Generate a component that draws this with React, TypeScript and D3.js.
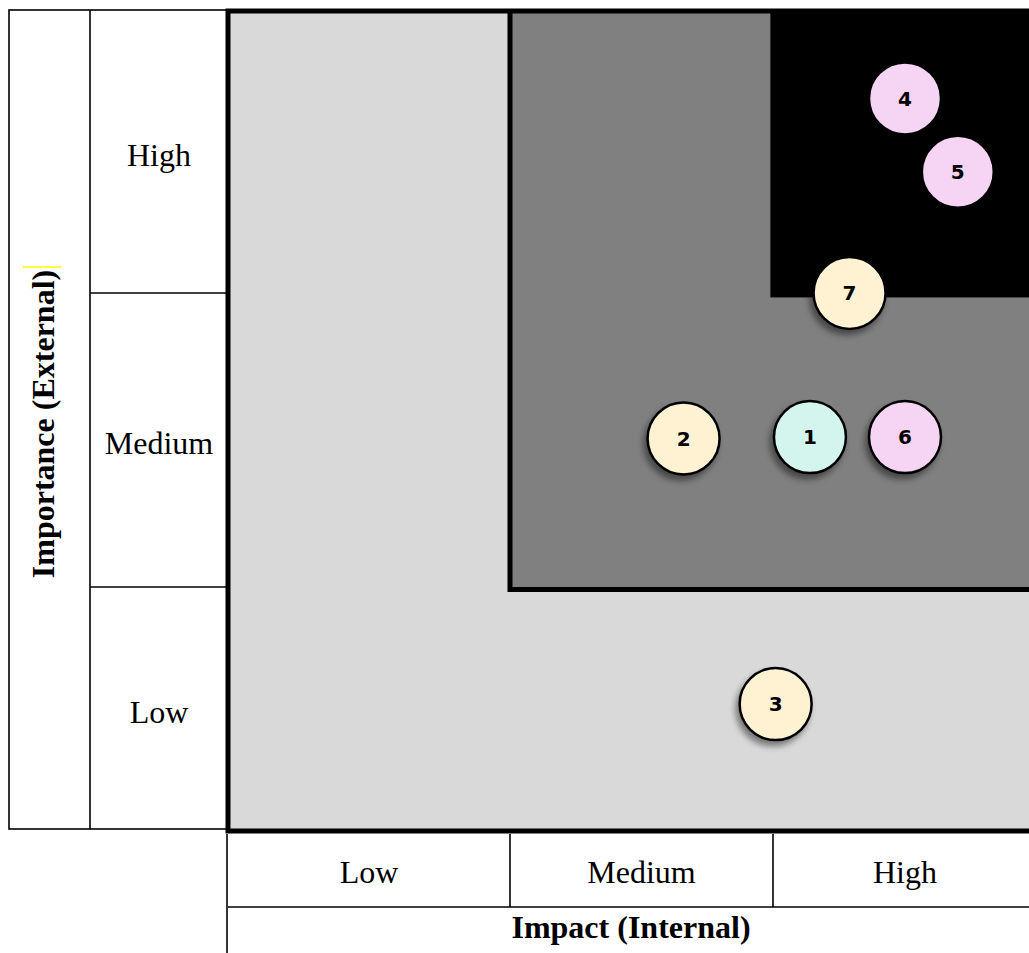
import React from 'react';
import * as d3 from 'd3';

// axis levels (bottom = impact, left = importance)
const impactLevels = ['Low', 'Medium', 'High'];
const importanceLevels = ['Low', 'Medium', 'High'];

// issues plotted on the matrix (values in level units, 0..3)
const issueIds = [1, 2, 3, 4, 5, 6, 7];
const issueImpact = [2.14, 1.66, 2.01, 2.5, 2.7, 2.5, 2.29];
const issueImportance = [1.51, 1.505, 0.52, 2.69, 2.43, 1.51, 2.0];
const issueGroup = ['mint', 'cream', 'cream', 'pink', 'pink', 'pink', 'cream'];

// shaded zones: lower-left corner of each zone in level units
const zoneNames = ['low', 'medium', 'high'];
const zoneImpactStart = [0, 1, 1.99];
const zoneImportanceStart = [0, 0.99, 1.985];

const groupColor: Record<string, string> = {
  cream: '#fff2d3',
  mint: '#d3f5ee',
  pink: '#f5d5f3',
};
const zoneColor: Record<string, string> = {
  low: '#d9d9d9',
  medium: '#808080',
  high: '#000000',
};

const W = 1029;
const H = 953;
const serif = '"Liberation Serif", "Times New Roman", serif';

const App: React.FC = () => {
  const x = d3.scaleLinear().domain([0, 1, 2, 3]).range([228, 510, 773, 1037]);
  const y = d3.scaleLinear().domain([0, 1, 2, 3]).range([831, 587, 293, 11]);

  const tableLeft = 9;
  const labelCol = 90;
  const tableTop = 10;
  const tableBottom = 829;
  const bottomTop = 834;
  const bottomSplit = 907;

  const issues = issueIds.map((id, i) => ({
    id,
    cx: x(issueImpact[i]),
    cy: y(issueImportance[i]),
    fill: groupColor[issueGroup[i]],
  }));

  return (
    <svg
      width={W}
      height={H}
      style={{ position: 'absolute', left: 0, top: 0, background: '#fff' }}
    >
      <defs>
        <filter id="shadow" x="-50%" y="-50%" width="200%" height="200%">
          <feDropShadow dx={-3} dy={5} stdDeviation={3} floodColor="#000" floodOpacity={0.45} />
        </filter>
      </defs>

      {/* left table */}
      <g stroke="#000" strokeWidth={1.6} fill="none">
        <rect x={tableLeft} y={tableTop} width={x(0) - tableLeft} height={tableBottom - tableTop} />
        <line x1={labelCol} x2={labelCol} y1={tableTop} y2={tableBottom} />
        {[1, 2].map(v => (
          <line key={v} x1={labelCol} x2={x(0)} y1={y(v)} y2={y(v)} />
        ))}
      </g>
      {importanceLevels.map((lvl, i) => (
        <text
          key={lvl}
          x={(labelCol + x(0)) / 2}
          y={(y(i) + y(i + 1)) / 2 + 3}
          dy="0.35em"
          textAnchor="middle"
          fontFamily={serif}
          fontSize={32}
        >
          {lvl}
        </text>
      ))}
      <text
        transform={`translate(43,424) rotate(-90)`}
        dy="0.35em"
        textAnchor="middle"
        fontFamily={serif}
        fontSize={32}
        fontWeight="bold"
      >
        Importance (External)
      </text>
      <line x1={23} x2={61} y1={267} y2={267} stroke="#ffff00" strokeWidth={1.6} />

      {/* bottom table */}
      <g stroke="#000" strokeWidth={1.6}>
        <line x1={x(0) - 1} x2={x(0) - 1} y1={bottomTop} y2={H} />
        <line x1={x(0)} x2={W} y1={bottomSplit} y2={bottomSplit} />
        {[1, 2].map(v => (
          <line key={v} x1={x(v)} x2={x(v)} y1={bottomTop} y2={bottomSplit} />
        ))}
      </g>
      {impactLevels.map((lvl, i) => (
        <text
          key={lvl}
          x={(x(i) + x(i + 1)) / 2}
          y={(bottomTop + bottomSplit) / 2 + 1}
          dy="0.35em"
          textAnchor="middle"
          fontFamily={serif}
          fontSize={32}
        >
          {lvl}
        </text>
      ))}
      <text
        x={631}
        y={(bottomSplit + H) / 2 - 3}
        dy="0.35em"
        textAnchor="middle"
        fontFamily={serif}
        fontSize={32}
        fontWeight="bold"
      >
        Impact (Internal)
      </text>

      {/* zones */}
      {zoneNames.map((z, i) => (
        <rect
          key={z}
          x={x(zoneImpactStart[i])}
          y={y(3)}
          width={x(3) - x(zoneImpactStart[i]) + 20}
          height={y(zoneImportanceStart[i]) - y(3)}
          fill={zoneColor[z]}
        />
      ))}
      {/* border of the medium zone */}
      <path
        d={`M${x(zoneImpactStart[1])},${y(3)} V${y(zoneImportanceStart[1])} H${W + 10}`}
        fill="none"
        stroke="#000"
        strokeWidth={5}
      />
      {/* outer border of the plot */}
      <rect
        x={x(0)}
        y={y(3)}
        width={x(3) - x(0) + 20}
        height={y(0) - y(3)}
        fill="none"
        stroke="#000"
        strokeWidth={5}
      />

      {/* issues */}
      {issues.map(d => (
        <g key={d.id} transform={`translate(${d.cx},${d.cy})`}>
          <circle r={36} fill={d.fill} stroke="#000" strokeWidth={2.5} filter="url(#shadow)" />
          <text
            dy="0.36em"
            textAnchor="middle"
            fontFamily='"DejaVu Sans", sans-serif'
            fontWeight="bold"
            fontSize={20}
            fill="#000"
          >
            {d.id}
          </text>
        </g>
      ))}
    </svg>
  );
};

export default App;
